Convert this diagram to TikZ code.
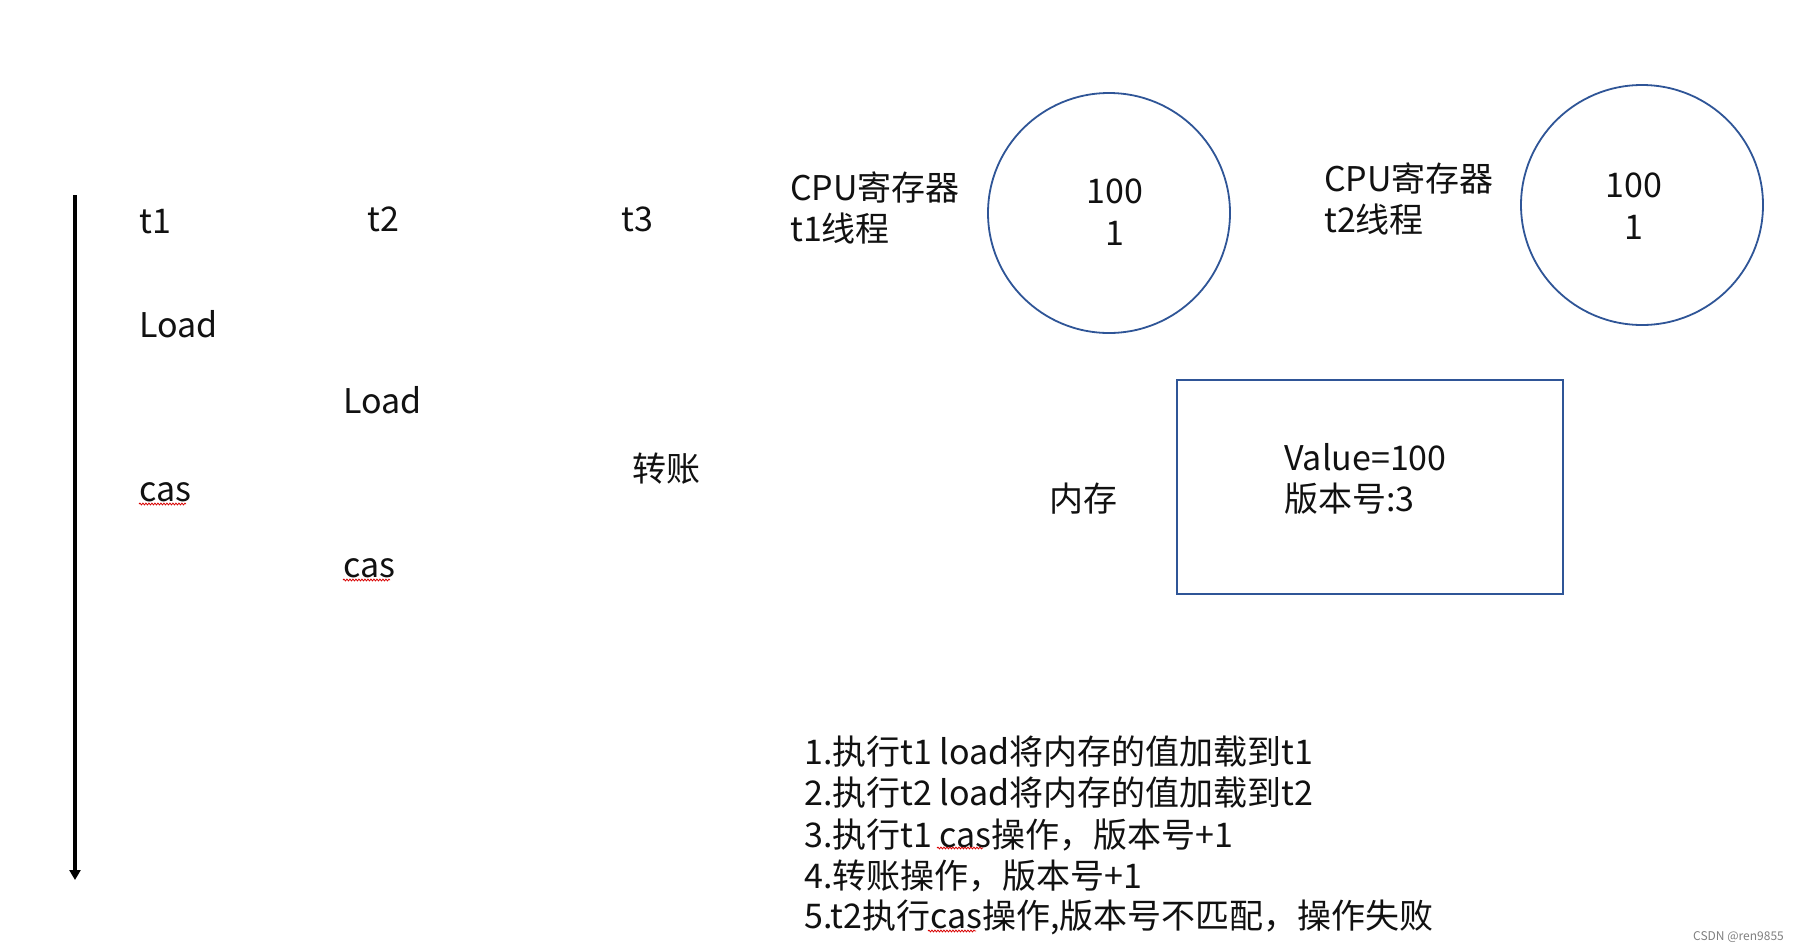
\documentclass[tikz,border=0pt]{standalone}
\usepackage{fontspec}
\setmainfont{Noto Sans CJK SC}
\usetikzlibrary{arrows.meta,decorations.pathmorphing,shapes.geometric}
\definecolor{shapeblue}{HTML}{2F5597}
\definecolor{txt}{HTML}{111111}
\tikzset{
  lbl/.style={anchor=west,inner sep=0pt,text=txt,font=\fontsize{34}{41}\selectfont,align=left},
  ctr/.style={anchor=center,inner sep=0pt,text=txt,font=\fontsize{34}{42}\selectfont,align=center},
  reg/.style={draw=shapeblue,line width=1.8pt,ellipse,minimum width=242pt,minimum height=240pt},
  mem/.style={draw=shapeblue,line width=2pt,rectangle,minimum width=386pt,minimum height=214pt,inner sep=0pt},
  spell/.style={draw=red!85!black,line width=0.8pt,decorate,decoration={snake,amplitude=0.9pt,segment length=3pt}},
  timeline/.style={line width=3.4pt,-{Triangle[length=10pt,width=11pt]}}
}
\begin{document}
\begin{tikzpicture}[x=1pt,y=-1pt]
\useasboundingbox[fill=white] (0,0) rectangle (1799,951);
% time axis
\coordinate (ttop) at (75,195);
\coordinate (tbot) at (75,880);
\draw[timeline] (ttop) -- (tbot);
% thread headers
\node[lbl] (t1) at (139,222) {t1};
\node[lbl] (t2) at (367,219) {t2};
\node[lbl] (t3) at (621,219) {t3};
% operations
\node[lbl] (load1) at (139,324) {Load};
\node[lbl] (load2) at (343,400) {Load};
\node[lbl] (cas1) at (139,492) {cas};
\node[lbl] (zz) at (632,469) {转账};
\node[lbl] (cas2) at (343,568) {cas};
\coordinate (u1a) at (139,504); \coordinate (u1b) at (186,504);
\coordinate (u2a) at (343,580); \coordinate (u2b) at (390,580);
\draw[spell] (u1a) -- (u1b);
\draw[spell] (u2a) -- (u2b);
% registers
\node[lbl] (cpu1) at (790,208) {CPU寄存器\\t1线程};
\node[reg] (r1) at (1109,213) {};
\node[ctr] (r1v) at (1115,212) {100\\1};
\node[lbl] (cpu2) at (1324,199) {CPU寄存器\\t2线程};
\node[reg] (r2) at (1642,205) {};
\node[ctr] (r2v) at (1634,206) {100\\1};
% memory
\node[mem] (m) at (1370,487) {};
\node[lbl] (mv) at (1284,479) {Value=100\\版本号:3};
\node[lbl] (ml) at (1049,499) {内存};
% steps
\node[lbl] (s1) at (804,752) {1.执行t1 load将内存的值加载到t1};
\node[lbl] (s2) at (804,793) {2.执行t2 load将内存的值加载到t2};
\node[lbl] (s3) at (804,835) {3.执行t1 cas操作，版本号+1};
\node[lbl] (s4) at (804,876) {4.转账操作，版本号+1};
\node[lbl] (s5) at (804,917) {5.t2执行cas操作,版本号不匹配，操作失败};
\coordinate (u3a) at (937,848); \coordinate (u3b) at (983,848);
\coordinate (u5a) at (928,931); \coordinate (u5b) at (976,931);
\draw[spell] (u3a) -- (u3b);
\draw[spell] (u5a) -- (u5b);
% watermark
\node[anchor=east,inner sep=0pt,text=gray,font=\fontsize{12}{14}\selectfont] (wm) at (1784,937) {CSDN @ren9855};
\end{tikzpicture}
\end{document}
